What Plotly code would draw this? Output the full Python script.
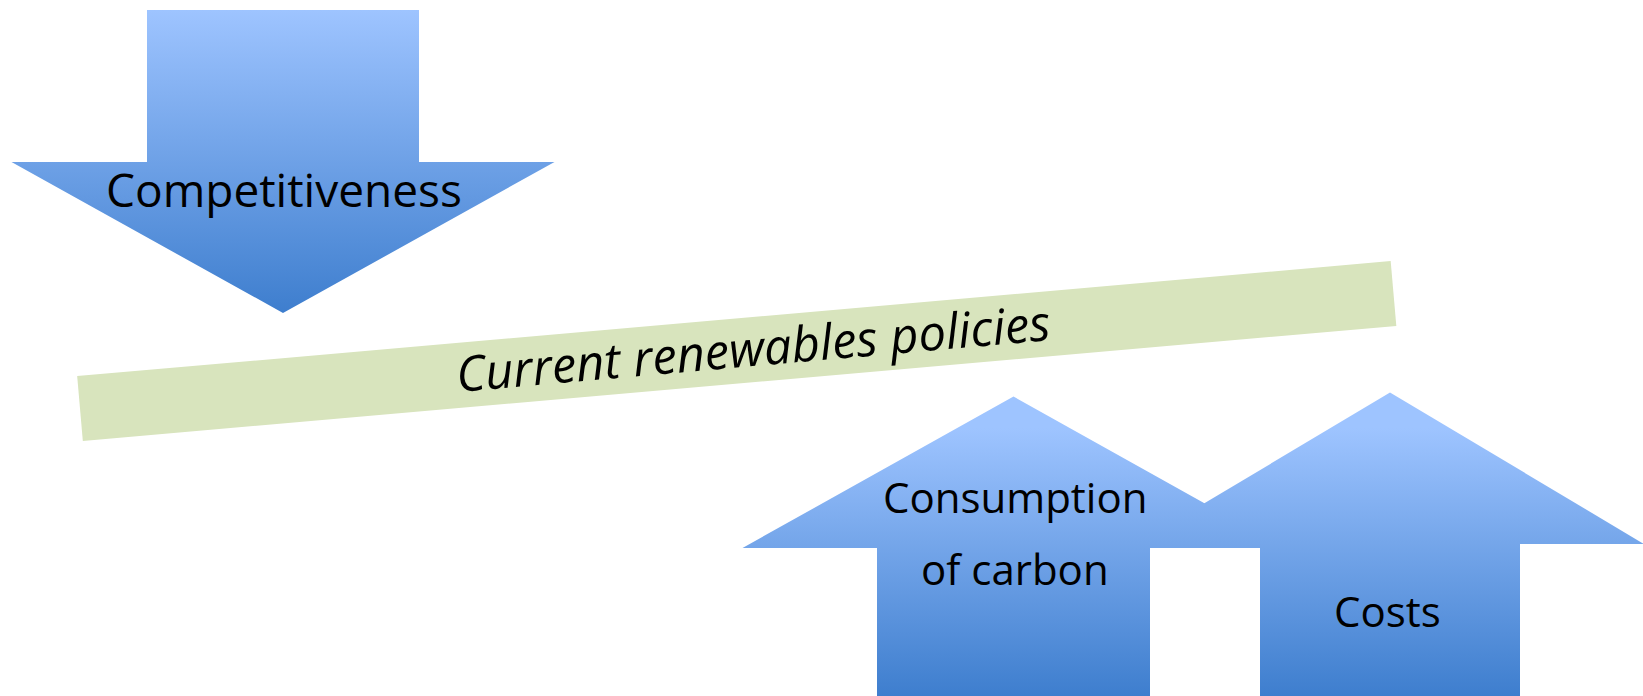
import math
import plotly.graph_objects as go

W, H = 1643, 696

# ---- diagram content ----
labels_arrows = ["Competitiveness", "Consumption<br>of carbon", "Costs"]
arrow_direction = ["down", "up", "up"]
# arrow geometry (pixel space): tip x, tip y, head half-width, head base y, shaft half-width, shaft end y
arrow_tip_x = [283, 1013.5, 1390]
arrow_tip_y = [313, 396.5, 392.5]
arrow_head_half = [271.5, 271, 254]
arrow_head_base = [162, 548, 544]
arrow_shaft_half = [136, 136.5, 130]
arrow_shaft_end = [10, 700, 700]
# gradient extent (light -> dark)
grad_start = [10, 428, 428]
grad_stop = [313, 696, 696]

band_label = "Current renewables policies"
band_start = [80, 408.5]     # centre of left end
band_end = [1393.5, 293.5]   # centre of right end
band_thickness = 65

grad_light = "#9EC4FF"
grad_dark = "#3E7ECE"
band_color = "#D8E4BD"
font_family = "'Open Sans', sans-serif"

fig = go.Figure()

# band
dx, dy = band_end[0] - band_start[0], band_end[1] - band_start[1]
L = math.hypot(dx, dy)
nx, ny = -dy / L * band_thickness / 2, dx / L * band_thickness / 2
bx = [band_start[0] - nx, band_end[0] - nx, band_end[0] + nx, band_start[0] + nx, band_start[0] - nx]
by = [band_start[1] - ny, band_end[1] - ny, band_end[1] + ny, band_start[1] + ny, band_start[1] - ny]
fig.add_trace(go.Scatter(x=bx, y=by, mode="lines", fill="toself", fillcolor=band_color,
                         line=dict(width=0, color=band_color), hoverinfo="skip", showlegend=False))

# arrows
for i in range(3):
    tx, ty = arrow_tip_x[i], arrow_tip_y[i]
    hh, hb = arrow_head_half[i], arrow_head_base[i]
    sh, se = arrow_shaft_half[i], arrow_shaft_end[i]
    xs = [tx, tx + hh, tx + sh, tx + sh, tx - sh, tx - sh, tx - hh, tx]
    ys = [ty, hb, hb, se, se, hb, hb, ty]
    fig.add_trace(go.Scatter(
        x=xs, y=ys, mode="lines", fill="toself",
        line=dict(width=0, color="rgba(0,0,0,0)"),
        fillgradient=dict(type="vertical", start=grad_start[i], stop=grad_stop[i],
                          colorscale=[[0, grad_light], [1, grad_dark]]),
        hoverinfo="skip", showlegend=False))

# labels
label_pos = [(284, 189, "Competitiveness", 46), (1015, 496, "Consumption", 42),
             (1015, 568, "of carbon", 42), (1387, 610, "Costs", 42)]
for x, y, t, s in label_pos:
    fig.add_annotation(x=x, y=y, text=t, showarrow=False, xanchor="center", yanchor="middle",
                       font=dict(family=font_family, size=s, color="black"))

fig.add_annotation(x=753, y=347, text="<i>" + band_label + "</i>", showarrow=False,
                   textangle=-5, xanchor="center", yanchor="middle",
                   font=dict(family=font_family, size=49, color="black"))

fig.update_layout(
    width=W, height=H, margin=dict(l=0, r=0, t=0, b=0),
    paper_bgcolor="white", plot_bgcolor="white",
    xaxis=dict(range=[0, W], visible=False, fixedrange=True),
    yaxis=dict(range=[H, 0], visible=False, fixedrange=True),
)
fig.write_html("out.html", config={"displayModeBar": False},
               post_script="document.body.style.margin='0';")
